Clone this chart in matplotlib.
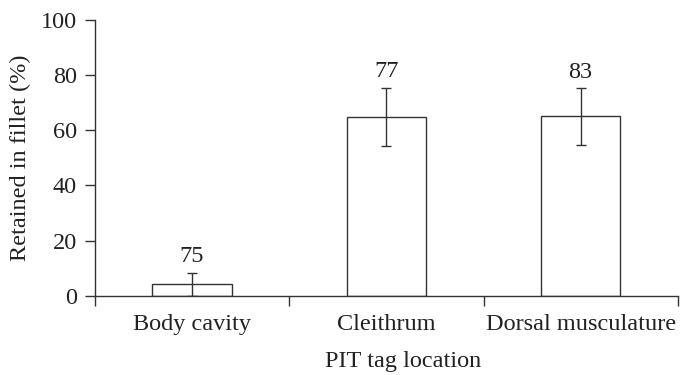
import matplotlib
matplotlib.use("Agg")
import matplotlib.pyplot as plt
import numpy as np

categories = ["Body cavity", "Cleithrum", "Dorsal musculature"]
retained = [4.1, 64.8, 65.0]
errors = [4.2, 10.6, 10.3]
sample_sizes = ["75", "77", "83"]
yticks = [0, 20, 40, 60, 80, 100]

plt.rcParams['font.family'] = ['Liberation Serif', 'DejaVu Serif']
fig = plt.figure(figsize=(6.8, 3.75), dpi=100)
ax = fig.add_axes([0.1397, 0.2115, 0.857, 0.7352])

fs = 17.5
x = np.arange(len(categories))
col = '#333333'
ax.bar(x, retained, width=0.41, facecolor='white', edgecolor=col, linewidth=1.0, zorder=2)
ax.errorbar(x, retained, yerr=errors, fmt='none', ecolor=col, elinewidth=1.0,
            capsize=3.5, capthick=1.0, zorder=3)
for xi, v, e, n in zip(x, retained, errors, sample_sizes):
    ax.annotate(n, (xi, v + e), xytext=(0, 4), textcoords='offset points',
                ha='center', va='bottom', fontsize=fs, color='#222222')

ax.set_xlim(-0.5, 2.5)
ax.set_ylim(0, 100)
ax.set_yticks(yticks)
ax.set_yticklabels([str(t) for t in yticks])
ax.set_xticks(x)
ax.set_xticklabels(categories)
ax.set_xticks([-0.5, 0.5, 1.5, 2.5], minor=True)
ax.tick_params(axis='x', which='major', length=0, pad=13, labelsize=fs, colors='#222222')
ax.tick_params(axis='x', which='minor', length=7, width=1.0, color=col, direction='out')
ax.tick_params(axis='y', length=7, width=1.0, color=col, direction='out', pad=6,
               labelsize=fs, labelcolor='#222222')
for s in ['top', 'right']:
    ax.spines[s].set_visible(False)
for s in ['left', 'bottom']:
    ax.spines[s].set_color(col)
    ax.spines[s].set_linewidth(1.0)
ax.spines['left'].set_bounds(0, 100)

ax.set_ylabel("Retained in fillet (%)", fontsize=fs, color='#222222', labelpad=7)
ax.set_xlabel("PIT tag location", fontsize=fs, color='#222222', labelpad=12)
ax.xaxis.label.set_x(0.528)

fig.savefig("out.png", dpi=100)
